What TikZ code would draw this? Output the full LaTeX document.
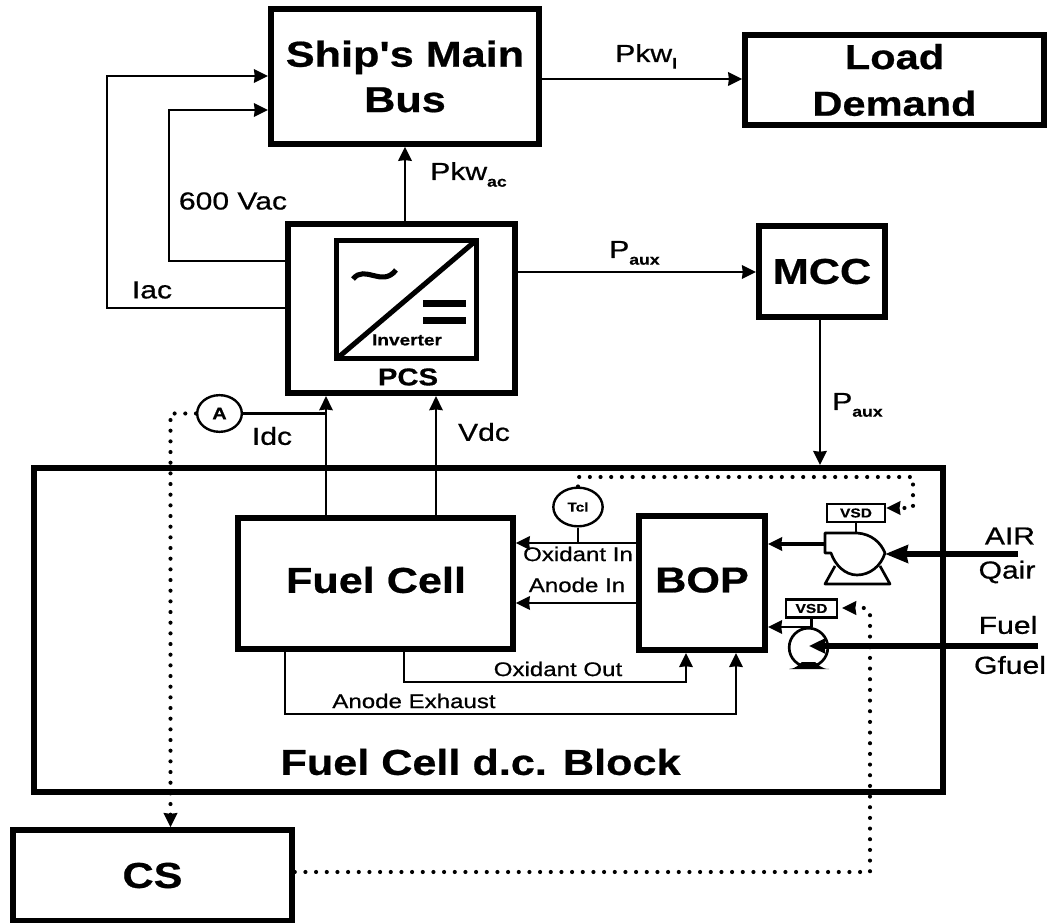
\documentclass[tikz,border=0pt]{standalone}
\usepackage{fontspec}
\setmainfont{Liberation Sans}
\newfontfamily\blockfont[FakeStretch=1.2, FakeBold=0.6]{Liberation Sans}
\newfontfamily\labelfont[FakeStretch=1.22, FakeBold=0.7]{Liberation Sans}
\usetikzlibrary{arrows.meta, shapes.geometric}
\newcommand{\lowsub}[1]{\raisebox{-5pt}{\fontsize{11}{11}\selectfont\blockfont\bfseries #1}}
\tikzset{
    blockbox/.style={draw, line width=4.4pt, inner sep=0pt},
    sensorbox/.style={draw, ellipse, line width=1.8pt, inner sep=0pt},
    vsdbox/.style={draw, line width=1.8pt, inner sep=0pt, minimum height=13.5pt,
        font=\fontsize{9.7}{10}\selectfont\blockfont\bfseries},
    bigtext/.style={font=\fontsize{27}{34}\selectfont\blockfont\bfseries, align=center},
    labeltext/.style={font=\fontsize{18.5}{20}\selectfont\labelfont, inner sep=0pt},
    smalltext/.style={font=\fontsize{14.8}{16}\selectfont\labelfont, inner sep=0pt},
    signal/.style={line width=1.9pt},
    dotline/.style={line width=3.1pt, line cap=round, dash pattern=on 0pt off 8pt},
}
\begin{document}
\begin{tikzpicture}[x=0.75pt, y=-0.75pt, >={Stealth[length=10.5pt, width=10pt, inset=0.5pt]}]
    \useasboundingbox (0,0) rectangle (1047,923);

    \node[blockbox, minimum width=201pt, minimum height=101pt, bigtext] (bus) at (405,76.5) {Ship's Main\\Bus};
    \node[blockbox, minimum width=224pt, minimum height=67.5pt, bigtext, font=\fontsize{26}{35}\selectfont\blockfont\bfseries] (load) at (894.5,80) {Load\\Demand};
    \node[blockbox, minimum width=94.5pt, minimum height=68pt, bigtext] (mcc) at (822,271.5) {MCC};
    \node[blockbox, minimum width=170pt, minimum height=127pt] (pcs) at (401.5,308.5) {};
    \node[blockbox, line width=3.8pt, minimum width=105pt, minimum height=88.5pt] (inverter) at (406.5,299.5) {};
    \node[blockbox, minimum width=681.75pt, minimum height=243pt] (dcblock) at (488.5,630) {};
    \node[blockbox, minimum width=206pt, minimum height=98pt] (fuelcell) at (375.5,583.5) {};
    \node[blockbox, minimum width=94.5pt, minimum height=100.5pt] (bop) at (702,583) {};
    \node[blockbox, minimum width=209pt, minimum height=68pt, bigtext] (cs) at (152.5,875.5) {CS};

    \node[bigtext] (fuelcelltext) at (376,580) {Fuel Cell};
    \node[bigtext] (boptext) at (702,580) {BOP};
    \node[bigtext] (blocktitle) at (480.5,762) {Fuel Cell d.c. Block};
    \node[font=\fontsize{11.9}{12}\selectfont\blockfont\bfseries, inner sep=0pt] (invertertext) at (407,340) {Inverter};
    \node[font=\fontsize{18.3}{19}\selectfont\blockfont\bfseries, inner sep=0pt] (pcstext) at (408,377) {PCS};

    \draw[line width=3.8pt, shorten >=2.5pt, shorten <=2.5pt] (inverter.south west) -- (inverter.north east);
    \draw[line width=3.8pt] (353,279) .. controls (365,264) and (382,288) .. (396,270);
    \fill (423,300) rectangle (466,307);
    \fill (423,317) rectangle (466,324);

    \node[sensorbox, minimum width=33.5pt, minimum height=27.5pt, font=\fontsize{12.5}{13}\selectfont\blockfont\bfseries] (ammeter) at (219.5,413.5) {A};
    \node[sensorbox, minimum width=37pt, minimum height=29pt, font=\fontsize{9.6}{10}\selectfont\blockfont\bfseries] (tcl) at (578,507) {Tcl};

    \node[vsdbox, minimum width=43.5pt] (vsdair) at (856,513) {VSD};
    \node[vsdbox, minimum width=38pt] (vsdfuel) at (811.5,608.5) {VSD};

    \draw[line width=2pt, line join=round] (825,533) -- (857,533) .. controls (872,534) and (881,543) .. (885,553)
        .. controls (881,566) and (870,575) .. (857,575) .. controls (845,575) and (835,565) .. (831,553) -- (825,553) -- cycle;
    \draw[line width=2pt, line join=round] (835,566) -- (825,584) -- (890,584) -- (880,566);
    \coordinate (airoutlet) at (825,544);
    \coordinate (airinlet) at (885,554);
    \coordinate (airend) at (1018,554);
    \coordinate (vsdairstem) at (856,533);

    \node[draw, circle, line width=2pt, minimum size=29pt, inner sep=0pt] (fuelpump) at (808.5,647.5) {};
    \fill (789,669) .. controls (796,669) and (799,664) .. (802,662) -- (815,662) .. controls (818,664) and (821,669) .. (829,669) -- cycle;
    \coordinate (fuelend) at (1038,646);
    \coordinate (fuelinlet) at (809,646);
    \coordinate (fueloutlet) at (811,627);

    \draw[signal] (vsdair.south) -- (vsdairstem);
    \draw[signal] (vsdfuel.south) -- (vsdfuel.south |- fuelpump.north);

    \coordinate (iacturn) at (107,308);
    \coordinate (vacturn) at (169,261);
    \coordinate (pkwx) at (405,0);
    \coordinate (idcx) at (326,413.5);
    \coordinate (vdcx) at (436,0);
    \coordinate (pauxx) at (820,0);
    \coordinate (oxoutturn) at (404,682);
    \coordinate (oxinx) at (686,0);
    \coordinate (exhaustturn) at (285,714);
    \coordinate (exhaustinx) at (736,0);
    \coordinate (ammeterturn) at (170.5,413.5);
    \coordinate (csturn) at (870,872);
    \coordinate (vsdturn) at (870,612);
    \coordinate (vsdhook) at (864,608);
    \coordinate (tclturn) at (578,477);
    \coordinate (airturn) at (913,477);
    \coordinate (airdrop) at (913,508);

    \draw[signal, ->] (pcs.west |- iacturn) -- (iacturn) |- (bus.west |- 0,76);
    \draw[signal, ->] (pcs.west |- vacturn) -- (vacturn) |- (bus.west |- 0,110);
    \draw[signal, ->] (pkwx |- pcs.north) -- (pkwx |- bus.south);
    \draw[signal, ->] (bus.east |- 0,79) -- (load.west |- 0,79);
    \draw[signal, ->] (pcs.east |- 0,272) -- (mcc.west |- 0,272);
    \draw[signal, ->] (pauxx |- mcc.south) -- (pauxx |- dcblock.north);
    \draw[signal, ->] (idcx |- fuelcell.north) -- (idcx |- pcs.south);
    \draw[signal, ->] (vdcx |- fuelcell.north) -- (vdcx |- pcs.south);
    \draw[line width=2.2pt] (ammeter.east) -- (idcx);
    \draw[dotline, ->] (ammeter.west) -- (ammeterturn) -- (ammeterturn |- cs.north);

    \draw[signal, ->] (bop.west |- 0,543) -- (fuelcell.east |- 0,543);
    \draw[signal, ->] (bop.west |- 0,603) -- (fuelcell.east |- 0,603);
    \draw[signal] (tcl.south) -- (tcl.south |- 0,543);
    \draw[signal, ->] (oxoutturn |- fuelcell.south) -- (oxoutturn) -| (oxinx |- bop.south);
    \draw[signal, ->] (exhaustturn |- fuelcell.south) -- (exhaustturn) -| (exhaustinx |- bop.south);
    \draw[line width=2.3pt, ->] (airoutlet) -- (bop.east |- airoutlet);
    \draw[signal, ->] (fueloutlet) -- (bop.east |- fueloutlet);
    \draw[line width=5pt, -{Stealth[length=17pt, width=13pt, inset=1pt]}] (airend) -- (airinlet);
    \draw[line width=4.5pt, -{Stealth[length=12pt, width=11pt, inset=0.5pt]}] (fuelend) -- (fuelinlet);

    \draw[dotline, ->] (tcl.north) -- (tclturn) -- (airturn) -- (airdrop) -- (vsdair.east |- airdrop);
    \draw[dotline, ->, shorten >=3pt] (cs.east |- csturn) -- (csturn) -- (vsdturn) -- (vsdhook) -- (vsdfuel.east |- vsdhook);

    \node[labeltext, anchor=base west] (pkwac) at (430,180) {Pkw\lowsub{ac}};
    \node[labeltext, anchor=base west] (pkwl) at (615,62) {Pkw\lowsub{l}};
    \node[labeltext] (vac) at (233,201) {600 Vac};
    \node[labeltext] (iac) at (152,290) {Iac};
    \node[labeltext, anchor=base west] (paux) at (609,258) {P\lowsub{aux}};
    \node[labeltext, anchor=base west] (pauxlow) at (832,410) {P\lowsub{aux}};
    \node[labeltext] (idc) at (272,436) {Idc};
    \node[labeltext] (vdc) at (484,432) {Vdc};
    \node[labeltext] (air) at (1010,536) {AIR};
    \node[labeltext] (qair) at (1007,572) {Qair};
    \node[labeltext] (fuel) at (1008,625) {Fuel};
    \node[labeltext] (gfuel) at (1010,665) {Gfuel};
    \node[smalltext] (oxidantin) at (578,554) {Oxidant In};
    \node[smalltext] (anodein) at (577,585) {Anode In};
    \node[smalltext] (oxidantout) at (558,669) {Oxidant Out};
    \node[smalltext] (exhaust) at (414,701) {Anode Exhaust};
\end{tikzpicture}
\end{document}
